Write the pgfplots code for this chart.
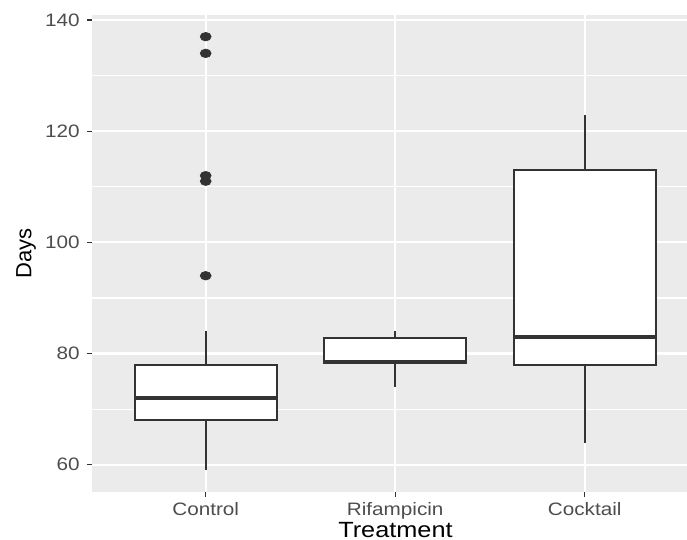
\documentclass[border=0pt]{standalone}
\usepackage{pgfplots}
\pgfplotsset{compat=1.18}
\usepgfplotslibrary{statistics}
\usepackage{fontspec}
\setmainfont{Liberation Sans}
\newfontfamily\tickfont[FakeStretch=1.15]{Liberation Sans}
\definecolor{panelbg}{HTML}{EBEBEB}
\definecolor{gray20}{HTML}{333333}
\definecolor{gray30}{HTML}{4D4D4D}
\begin{document}
\begin{tikzpicture}
\begin{axis}[
  scale only axis, width=297.5pt, height=238.5pt,
  xmin=0.4, xmax=3.54, ymin=55.1, ymax=140.9,
  axis line style={draw=none},
  axis background/.style={fill=panelbg},
  xtick={1,2,3}, xticklabels={Control,Rifampicin,Cocktail},
  ytick={60,80,100,120,140},
  minor ytick={70,90,110,130},
  xmajorgrids, ymajorgrids, yminorgrids,
  major grid style={white, line width=1.1pt},
  minor grid style={white, line width=0.55pt},
  tick pos=left, tick align=outside,
  major tick length=2.5pt, minor tick length=0pt,
  every tick/.style={gray20, line width=0.55pt},
  /pgf/number format/assume math mode=true,
  xticklabel style={font=\tickfont\fontsize{9}{10}\selectfont, text=gray30, anchor=base, inner sep=0pt, yshift=-9.5pt},
  yticklabel style={font=\tickfont\fontsize{9}{10}\selectfont, text=gray30, anchor=east, inner sep=0pt, xshift=-3.5pt},
  xlabel={Treatment}, ylabel={Days},
  xlabel style={at={(axis description cs:0.51,0)}, anchor=base, inner sep=0pt, yshift=-23pt, font=\tickfont\fontsize{11}{13}\selectfont},
  ylabel style={at={(axis description cs:0,0.5)}, anchor=center, inner sep=0pt, yshift=33pt, font=\fontsize{11}{13}\selectfont},
  boxplot/draw direction=y,
  boxplot/box extend=0.75,
  boxplot/whisker extend=0,
  boxplot/every box/.style={draw=gray20, fill=white, line width=0.9pt},
  boxplot/every whisker/.style={draw=gray20, line width=0.9pt},
  boxplot/every median/.style={draw=gray20, line width=2pt},
]
\addplot[draw=gray20, mark=none,
  boxplot prepared={lower whisker=59, lower quartile=68, median=72, upper quartile=78, upper whisker=84, draw position=1}] coordinates {};
\addplot[draw=gray20, mark=none,
  boxplot prepared={lower whisker=74, lower quartile=78.25, median=78.5, upper quartile=82.75, upper whisker=84, draw position=2}] coordinates {};
\addplot[draw=gray20, mark=none,
  boxplot prepared={lower whisker=64, lower quartile=78, median=83, upper quartile=113, upper whisker=123, draw position=3}] coordinates {};
\addplot[only marks, mark=*, mark size=2.7pt, color=gray20, mark options={yscale=0.78}] coordinates {(1,94) (1,111) (1,112) (1,134) (1,137)};
\end{axis}
\pgfresetboundingbox
\path[use as bounding box] ([shift={(-46pt,-24pt)}]current axis.south west) rectangle ([shift={(0pt,7.5pt)}]current axis.north east);
\end{tikzpicture}
\end{document}
